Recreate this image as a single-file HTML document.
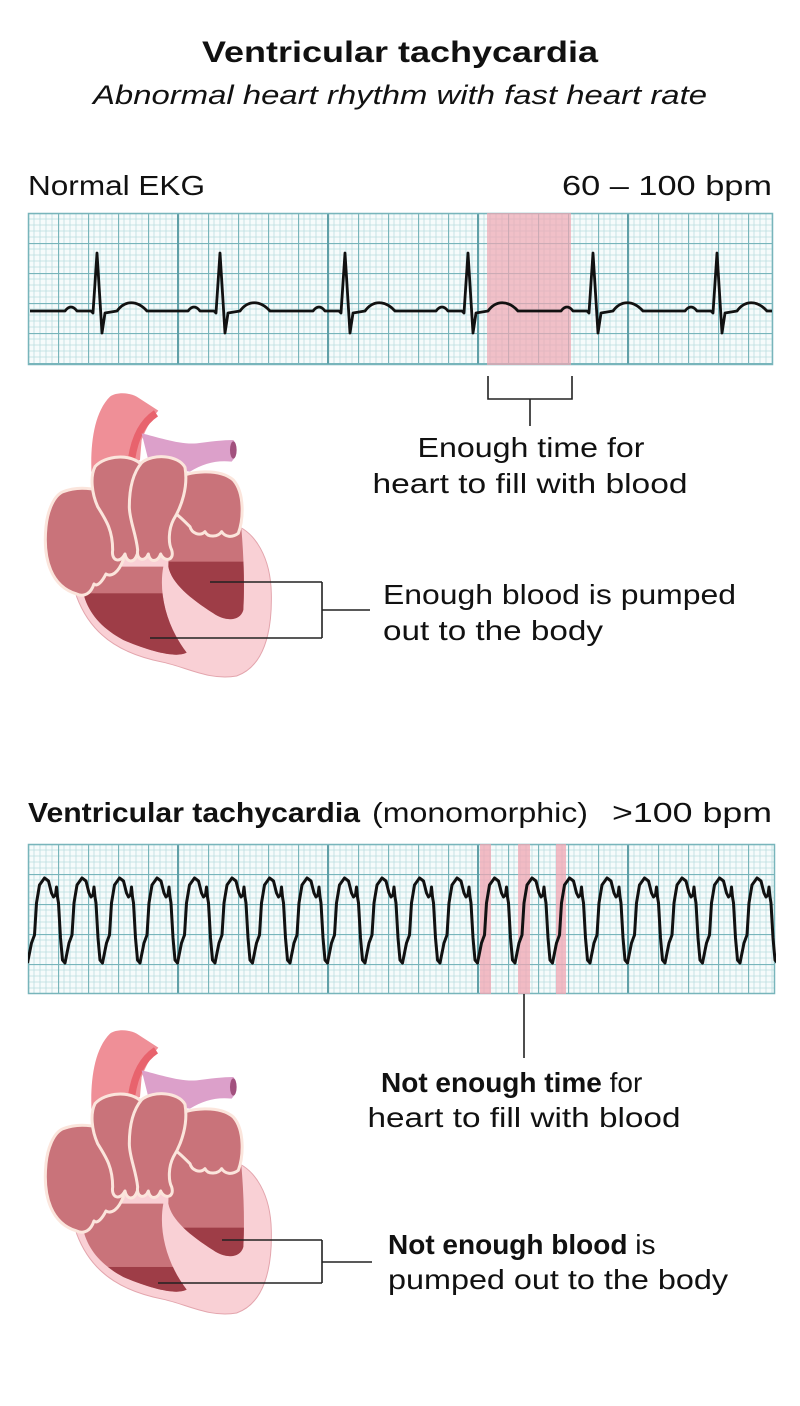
<!DOCTYPE html>
<html><head><meta charset="utf-8"><style>
html,body{margin:0;padding:0;background:#fff;}
svg{display:block;}
text{font-family:"Liberation Sans",sans-serif;fill:#111;}
</style></head><body>
<svg width="800" height="1406" viewBox="0 0 800 1406" xmlns="http://www.w3.org/2000/svg">
<defs>
<pattern id="grid" x="28" y="213" width="30" height="30" patternUnits="userSpaceOnUse">
<rect width="30" height="30" fill="#f6fbfb"/>
<path d="M6,0V30M12,0V30M18,0V30M24,0V30M0,6H30M0,12H30M0,18H30M0,24H30" stroke="#b9dde0" stroke-width="0.8"/>
<path d="M0.5,0V30M0,0.5H30" stroke="#78b5bb" stroke-width="1.3"/>
</pattern>
<pattern id="grid2" x="28" y="844" width="30" height="30" patternUnits="userSpaceOnUse">
<rect width="30" height="30" fill="#f6fbfb"/>
<path d="M6,0V30M12,0V30M18,0V30M24,0V30M0,6H30M0,12H30M0,18H30M0,24H30" stroke="#b9dde0" stroke-width="0.8"/>
<path d="M0.5,0V30M0,0.5H30" stroke="#78b5bb" stroke-width="1.3"/>
</pattern>
<clipPath id="vtclip"><rect x="28" y="844" width="748" height="150"/></clipPath>
<clipPath id="lv"><path d="M160,560 L400,560 C385,640 410,740 470,818 C440,835 360,815 280,780 C215,745 175,700 160,640 Z"/></clipPath>
<clipPath id="rv"><path d="M420,400 L630,400 C640,500 645,600 640,690 C630,725 585,725 550,700 C480,655 425,610 415,560 Z"/></clipPath>
<g id="heartA">
<path d="M140,650 C110,560 200,470 330,440 L600,430 C680,450 722,540 724,640 C727,760 700,860 620,888 C540,903 470,862 400,847 C300,827 190,785 140,650 Z" fill="#f9d0d5" stroke="#e3a5ad" stroke-width="3"/>
<path d="M185,290 C180,200 190,100 240,50 C260,35 300,38 320,50 L385,92 C370,110 350,140 335,180 L330,240 Z" fill="#ef8f97"/>
<path d="M305,235 C315,170 340,125 378,100" stroke="#e8636d" stroke-width="22" fill="none"/>
<path d="M335,160 C380,170 450,195 500,190 C540,185 580,180 610,180 C625,200 620,230 605,245 C560,240 520,250 480,275 L360,260 Z" fill="#dca0ca"/>
<ellipse cx="610" cy="210" rx="10" ry="26" fill="#a2517e"/>
<path d="M160,560 L400,560 C385,640 410,740 470,818 C440,835 360,815 280,780 C215,745 175,700 160,640 Z" fill="#c9737a"/>
<path d="M420,400 L630,400 C640,500 645,600 640,690 C630,725 585,725 550,700 C480,655 425,610 415,560 Z" fill="#c9737a"/>
</g>
<g id="heartB" fill="#c9737a" stroke="#fbe5dc" stroke-width="9" stroke-linejoin="round">
<path d="M430,300 C480,270 570,265 610,300 C645,340 640,420 625,460 C605,475 585,470 575,455 C565,470 535,475 525,455 C510,470 485,460 480,440 C460,420 440,400 420,390 Z"/>
<path d="M100,335 C150,315 225,325 255,360 L280,540 C265,578 245,592 228,582 C218,602 203,622 192,612 C182,642 162,652 140,642 C65,620 38,540 48,440 C53,390 73,345 100,335 Z"/>
<path d="M195,260 C225,225 305,220 335,255 C345,330 335,420 355,480 C365,520 345,545 322,522 C312,552 290,548 285,522 C270,552 243,542 248,510 C248,450 228,420 203,380 C185,340 180,290 195,260 Z"/>
<path d="M335,248 C370,220 445,225 465,262 C475,320 455,380 430,420 C415,450 415,490 425,510 C435,542 403,548 392,522 C382,548 360,548 355,522 C345,548 318,542 323,510 C318,460 298,420 298,380 C298,330 308,280 335,248 Z"/>
</g>
</defs>

<text x="400" y="62" text-anchor="middle" font-size="30" font-weight="bold" textLength="396" lengthAdjust="spacingAndGlyphs">Ventricular tachycardia</text>
<text x="400" y="104" text-anchor="middle" font-size="27" font-style="italic" textLength="614" lengthAdjust="spacingAndGlyphs">Abnormal heart rhythm with fast heart rate</text>

<text x="28" y="195" font-size="28" textLength="177" lengthAdjust="spacingAndGlyphs">Normal EKG</text>
<text x="562" y="195" font-size="28" textLength="210" lengthAdjust="spacingAndGlyphs">60 – 100 bpm</text>

<rect x="28" y="213" width="745" height="152" fill="url(#grid)"/>
<path d="M178,213V365M328,213V365M478,213V365M628,213V365" stroke="#5f9fa7" stroke-width="2"/>
<rect x="28.5" y="213.5" width="744" height="151" fill="none" stroke="#78b5bb" stroke-width="1.5"/>
<rect x="487" y="213" width="84" height="152" fill="#f0a6b2" opacity="0.7"/>
<path d="M30,311 L65,311 Q71,303 77,311 L91,311 L93,313 L97,253 L102,333 L105,313 L117,311 C125,300 137,300 147,311 L188,311 Q194,303 200,311 L214,311 L216,313 L220,253 L225,333 L228,313 L240,311 C248,300 260,300 270,311 L313,311 Q319,303 325,311 L339,311 L341,313 L345,253 L350,333 L353,313 L365,311 C373,300 385,300 395,311 L436,311 Q442,303 448,311 L462,311 L464,313 L468,253 L473,333 L476,313 L488,311 C496,300 508,300 518,311 L561,311 Q567,303 573,311 L587,311 L589,313 L593,253 L598,333 L601,313 L613,311 C621,300 633,300 643,311 L685,311 Q691,303 697,311 L711,311 L713,313 L717,253 L722,333 L725,313 L737,311 C745,300 757,300 767,311 L772,311" fill="none" stroke="#111" stroke-width="2.8" stroke-linejoin="round"/>

<path d="M488,376 V399 H572 V376 M530,399 V426" fill="none" stroke="#222" stroke-width="1.6"/>
<text x="531" y="457" text-anchor="middle" font-size="28" textLength="227" lengthAdjust="spacingAndGlyphs">Enough time for</text>
<text x="530" y="493" text-anchor="middle" font-size="28" textLength="315" lengthAdjust="spacingAndGlyphs">heart to fill with blood</text>

<g transform="translate(30,380) scale(0.3333)">
<use href="#heartA"/>
<g clip-path="url(#lv)"><rect x="100" y="640" width="500" height="300" fill="#9e3d47"/></g>
<g clip-path="url(#rv)"><rect x="400" y="545" width="300" height="300" fill="#9e3d47"/></g>
<use href="#heartB"/>
</g>
<path d="M210,582 H322 M150,638 H322 M322,582 V638 M322,610 H370" fill="none" stroke="#222" stroke-width="1.6"/>
<text x="383" y="604" font-size="28" textLength="353" lengthAdjust="spacingAndGlyphs">Enough blood is pumped</text>
<text x="383" y="640" font-size="28" textLength="220" lengthAdjust="spacingAndGlyphs">out to the body</text>

<text x="28" y="822" font-size="28" font-weight="bold" textLength="332" lengthAdjust="spacingAndGlyphs">Ventricular tachycardia</text>
<text x="372" y="822" font-size="28" textLength="216" lengthAdjust="spacingAndGlyphs">(monomorphic)</text>
<text x="612" y="822" font-size="28" textLength="160" lengthAdjust="spacingAndGlyphs">&gt;100 bpm</text>

<rect x="28" y="844" width="747" height="150" fill="url(#grid2)"/>
<path d="M178,844V994M328,844V994M478,844V994M628,844V994" stroke="#5f9fa7" stroke-width="2"/>
<rect x="28.5" y="844.5" width="746" height="149" fill="none" stroke="#78b5bb" stroke-width="1.5"/>
<rect x="480" y="844" width="11" height="150" fill="#f0a6b2" opacity="0.75"/>
<rect x="518" y="844" width="12" height="150" fill="#f0a6b2" opacity="0.75"/>
<rect x="556" y="844" width="10" height="150" fill="#f0a6b2" opacity="0.75"/>
<g clip-path="url(#vtclip)">
<path d="M27.5,963 l4,-20 l3,-8 l2,-32 l3,-18 l5,-7 l4,3 l3,12 l2,4 l2,-2 l1,-8 l1,10 l1,6 l2,35 l2,22 l2.5,3 l4,-20 l3,-8 l2,-32 l3,-18 l5,-7 l4,3 l3,12 l2,4 l2,-2 l1,-8 l1,10 l1,6 l2,35 l2,22 l2.5,3 l4,-20 l3,-8 l2,-32 l3,-18 l5,-7 l4,3 l3,12 l2,4 l2,-2 l1,-8 l1,10 l1,6 l2,35 l2,22 l2.5,3 l4,-20 l3,-8 l2,-32 l3,-18 l5,-7 l4,3 l3,12 l2,4 l2,-2 l1,-8 l1,10 l1,6 l2,35 l2,22 l2.5,3 l4,-20 l3,-8 l2,-32 l3,-18 l5,-7 l4,3 l3,12 l2,4 l2,-2 l1,-8 l1,10 l1,6 l2,35 l2,22 l2.5,3 l4,-20 l3,-8 l2,-32 l3,-18 l5,-7 l4,3 l3,12 l2,4 l2,-2 l1,-8 l1,10 l1,6 l2,35 l2,22 l2.5,3 l4,-20 l3,-8 l2,-32 l3,-18 l5,-7 l4,3 l3,12 l2,4 l2,-2 l1,-8 l1,10 l1,6 l2,35 l2,22 l2.5,3 l4,-20 l3,-8 l2,-32 l3,-18 l5,-7 l4,3 l3,12 l2,4 l2,-2 l1,-8 l1,10 l1,6 l2,35 l2,22 l2.5,3 l4,-20 l3,-8 l2,-32 l3,-18 l5,-7 l4,3 l3,12 l2,4 l2,-2 l1,-8 l1,10 l1,6 l2,35 l2,22 l2.5,3 l4,-20 l3,-8 l2,-32 l3,-18 l5,-7 l4,3 l3,12 l2,4 l2,-2 l1,-8 l1,10 l1,6 l2,35 l2,22 l2.5,3 l4,-20 l3,-8 l2,-32 l3,-18 l5,-7 l4,3 l3,12 l2,4 l2,-2 l1,-8 l1,10 l1,6 l2,35 l2,22 l2.5,3 l4,-20 l3,-8 l2,-32 l3,-18 l5,-7 l4,3 l3,12 l2,4 l2,-2 l1,-8 l1,10 l1,6 l2,35 l2,22 l2.5,3 l4,-20 l3,-8 l2,-32 l3,-18 l5,-7 l4,3 l3,12 l2,4 l2,-2 l1,-8 l1,10 l1,6 l2,35 l2,22 l2.5,3 l4,-20 l3,-8 l2,-32 l3,-18 l5,-7 l4,3 l3,12 l2,4 l2,-2 l1,-8 l1,10 l1,6 l2,35 l2,22 l2.5,3 l4,-20 l3,-8 l2,-32 l3,-18 l5,-7 l4,3 l3,12 l2,4 l2,-2 l1,-8 l1,10 l1,6 l2,35 l2,22 l2.5,3 l4,-20 l3,-8 l2,-32 l3,-18 l5,-7 l4,3 l3,12 l2,4 l2,-2 l1,-8 l1,10 l1,6 l2,35 l2,22 l2.5,3 l4,-20 l3,-8 l2,-32 l3,-18 l5,-7 l4,3 l3,12 l2,4 l2,-2 l1,-8 l1,10 l1,6 l2,35 l2,22 l2.5,3 l4,-20 l3,-8 l2,-32 l3,-18 l5,-7 l4,3 l3,12 l2,4 l2,-2 l1,-8 l1,10 l1,6 l2,35 l2,22 l2.5,3 l4,-20 l3,-8 l2,-32 l3,-18 l5,-7 l4,3 l3,12 l2,4 l2,-2 l1,-8 l1,10 l1,6 l2,35 l2,22 l2.5,3 l4,-20 l3,-8 l2,-32 l3,-18 l5,-7 l4,3 l3,12 l2,4 l2,-2 l1,-8 l1,10 l1,6 l2,35 l2,22 l2.5,3" fill="none" stroke="#111" stroke-width="3" stroke-linejoin="round"/>
</g>
<path d="M524,994 V1058" stroke="#222" stroke-width="1.6"/>
<text x="381" y="1092" font-size="28"><tspan font-weight="bold">Not enough time</tspan> for</text>
<text x="524" y="1127" text-anchor="middle" font-size="28" textLength="313" lengthAdjust="spacingAndGlyphs">heart to fill with blood</text>

<g transform="translate(30,1017) scale(0.3333)">
<use href="#heartA"/>
<g clip-path="url(#lv)"><rect x="100" y="750" width="500" height="300" fill="#9e3d47"/></g>
<g clip-path="url(#rv)"><rect x="400" y="632" width="300" height="300" fill="#9e3d47"/></g>
<use href="#heartB"/>
</g>
<path d="M222,1240 H322 M158,1283 H322 M322,1240 V1283 M322,1262 H372" fill="none" stroke="#222" stroke-width="1.6"/>
<text x="388" y="1254" font-size="28"><tspan font-weight="bold">Not enough blood</tspan> is</text>
<text x="388" y="1289" font-size="28" textLength="340" lengthAdjust="spacingAndGlyphs">pumped out to the body</text>
</svg>
</body></html>
